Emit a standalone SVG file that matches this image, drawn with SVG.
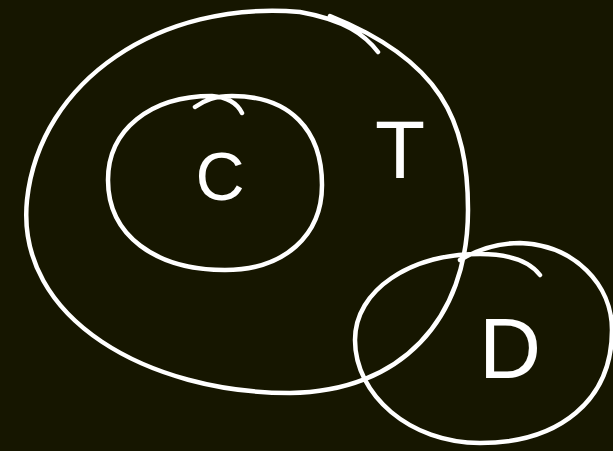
<svg xmlns="http://www.w3.org/2000/svg" width="613" height="451" viewBox="0 0 613 451">
<style>
.loop{fill:none;stroke:#ffffff;stroke-width:4.5;stroke-linecap:round;stroke-linejoin:round}
.lbl{fill:#ffffff;font-family:"Liberation Sans",Arial,sans-serif;text-anchor:middle}
</style>
<rect width="613" height="451" fill="#161600"/>
<g id="T">
<path class="loop" d="M378,52 C365,35 345,20 300,12 C160,0 40,80 27,200 C15,320 150,393 290,393 C400,392 468,320 468,210 C468,120 440,60 330,16"/>
<text class="lbl" x="400" y="178" font-size="82">T</text>
</g>
<g id="C">
<path class="loop" d="M195,107 C205,100 215,96 232,96 C290,96 322,130 322,185 C322,235 285,270 225,270 C155,270 108,235 108,180 C108,130 150,96 212,96 C226,97 237,103 242,113"/>
<text class="lbl" x="220" y="200" font-size="68">C</text>
</g>
<g id="D">
<path class="loop" d="M460,260 C480,248 500,243 520,243 C575,245 612,285 612,330 C612,400 560,443 480,443 C410,443 355,395 355,340 C355,290 410,254 480,254 C510,254 530,262 540,275"/>
<text class="lbl" x="510" y="378" font-size="86">D</text>
</g>
<g id="connectors"></g>
</svg>
